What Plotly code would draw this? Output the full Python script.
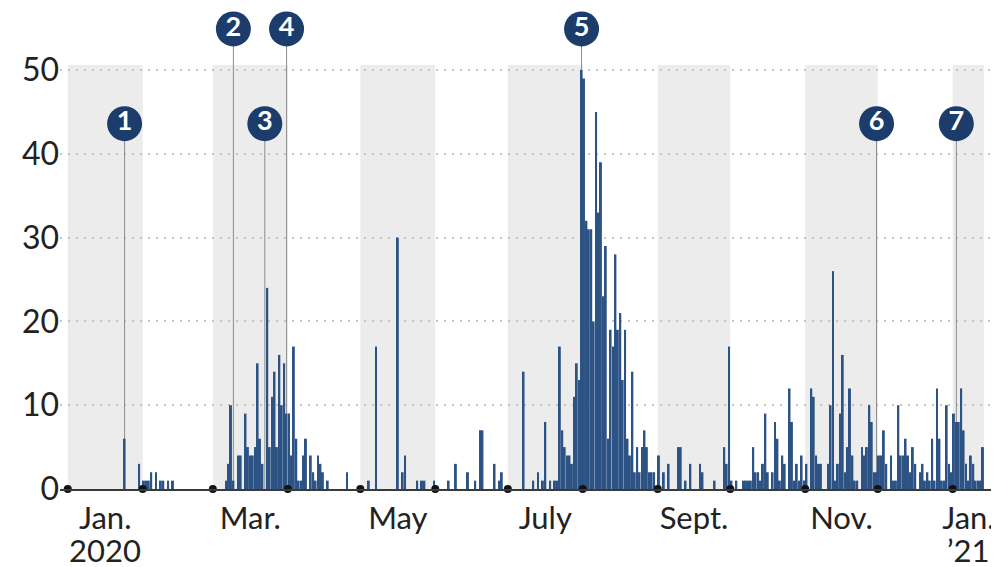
import plotly.graph_objects as go
import pandas as pd

# ---- data: daily counts (days not listed are zero) ----
dates = [
    "2020-01-24", "2020-01-30", "2020-02-01", "2020-02-02", "2020-02-03", "2020-02-04",
    "2020-02-06", "2020-02-08", "2020-02-09", "2020-02-11", "2020-02-13",
    "2020-03-06", "2020-03-07", "2020-03-08", "2020-03-09", "2020-03-11", "2020-03-12",
    "2020-03-14", "2020-03-15", "2020-03-16", "2020-03-17", "2020-03-18", "2020-03-19",
    "2020-03-20", "2020-03-21", "2020-03-23", "2020-03-24", "2020-03-25", "2020-03-26",
    "2020-03-27", "2020-03-28", "2020-03-29", "2020-03-30", "2020-03-31",
    "2020-04-01", "2020-04-02", "2020-04-03", "2020-04-04", "2020-04-05", "2020-04-06",
    "2020-04-07", "2020-04-08", "2020-04-10", "2020-04-11", "2020-04-12", "2020-04-13",
    "2020-04-14", "2020-04-15", "2020-04-17", "2020-04-25",
    "2020-05-04", "2020-05-07", "2020-05-16", "2020-05-18", "2020-05-19", "2020-05-24",
    "2020-05-26", "2020-05-27", "2020-05-31",
    "2020-06-06", "2020-06-09", "2020-06-14", "2020-06-17", "2020-06-19", "2020-06-20",
    "2020-06-25", "2020-06-27", "2020-06-28",
    "2020-07-07", "2020-07-11", "2020-07-13", "2020-07-15", "2020-07-16", "2020-07-18",
    "2020-07-20", "2020-07-21", "2020-07-22", "2020-07-23", "2020-07-24", "2020-07-25",
    "2020-07-26", "2020-07-27", "2020-07-28", "2020-07-29", "2020-07-30", "2020-07-31",
    "2020-08-01", "2020-08-02", "2020-08-03", "2020-08-04", "2020-08-05", "2020-08-06",
    "2020-08-07", "2020-08-08", "2020-08-09", "2020-08-10", "2020-08-11", "2020-08-12",
    "2020-08-13", "2020-08-14", "2020-08-15", "2020-08-16", "2020-08-17", "2020-08-18",
    "2020-08-19", "2020-08-20", "2020-08-21", "2020-08-22", "2020-08-23", "2020-08-24",
    "2020-08-25", "2020-08-26", "2020-08-27", "2020-08-28", "2020-08-29", "2020-08-30",
    "2020-09-01", "2020-09-03", "2020-09-05", "2020-09-09", "2020-09-10", "2020-09-12",
    "2020-09-14", "2020-09-18", "2020-09-19", "2020-09-24", "2020-09-28", "2020-09-29",
    "2020-09-30",
    "2020-10-01", "2020-10-03", "2020-10-06", "2020-10-07", "2020-10-08", "2020-10-09",
    "2020-10-10", "2020-10-11", "2020-10-12", "2020-10-13", "2020-10-14", "2020-10-15",
    "2020-10-16", "2020-10-18", "2020-10-19", "2020-10-20", "2020-10-21", "2020-10-22",
    "2020-10-23", "2020-10-25", "2020-10-26", "2020-10-27", "2020-10-28", "2020-10-29",
    "2020-10-30", "2020-10-31",
    "2020-11-01", "2020-11-03", "2020-11-04", "2020-11-05", "2020-11-06", "2020-11-07",
    "2020-11-10", "2020-11-11", "2020-11-12", "2020-11-13", "2020-11-14", "2020-11-15",
    "2020-11-16", "2020-11-17", "2020-11-18", "2020-11-19", "2020-11-20", "2020-11-21",
    "2020-11-22", "2020-11-24", "2020-11-25", "2020-11-26", "2020-11-27", "2020-11-28",
    "2020-11-29", "2020-11-30",
    "2020-12-01", "2020-12-02", "2020-12-03", "2020-12-04", "2020-12-06", "2020-12-07",
    "2020-12-08", "2020-12-09", "2020-12-10", "2020-12-11", "2020-12-12", "2020-12-13",
    "2020-12-14", "2020-12-15", "2020-12-16", "2020-12-18", "2020-12-19", "2020-12-20",
    "2020-12-21", "2020-12-22", "2020-12-23", "2020-12-24", "2020-12-25", "2020-12-26",
    "2020-12-27", "2020-12-28", "2020-12-29", "2020-12-30", "2020-12-31",
    "2021-01-01", "2021-01-02", "2021-01-03", "2021-01-04", "2021-01-05", "2021-01-06",
    "2021-01-07", "2021-01-08", "2021-01-09", "2021-01-10", "2021-01-11", "2021-01-12",
    "2021-01-13",
]
counts = [
    6, 3, 1, 1, 1, 2,
    2, 1, 1, 1, 1,
    1, 3, 10, 1, 4, 4,
    9, 5, 4, 4, 5, 15,
    6, 3, 24, 5, 11, 14,
    5, 16, 10, 15, 9,
    9, 4, 17, 6, 1, 1,
    4, 6, 4, 2, 1, 4,
    3, 2, 1, 2,
    1, 17, 30, 2, 4, 1,
    1, 1, 1,
    1, 3, 2, 1, 7, 7,
    3, 1, 2,
    14, 1, 2, 1, 8, 1,
    1, 1, 17, 7, 5, 4,
    4, 3, 11, 15, 13, 50,
    49, 32, 31, 31, 20, 45,
    33, 39, 23, 29, 6, 19,
    17, 28, 19, 21, 13, 19,
    6, 4, 14, 2, 5, 2,
    5, 7, 5, 2, 2, 2,
    4, 2, 3, 5, 5, 1,
    3, 3, 2, 1, 5, 3,
    17,
    1, 1, 1, 1, 1, 1,
    5, 2, 2, 1, 3, 9,
    2, 2, 8, 6, 1, 4,
    3, 12, 8, 1, 3, 1,
    4, 1,
    3, 12, 11, 4, 3, 3,
    3, 10, 26, 1, 3, 9,
    16, 2, 5, 12, 4, 1,
    1, 5, 4, 5, 10, 8,
    2, 2,
    4, 4, 7, 3, 4, 1,
    1, 10, 4, 4, 6, 4,
    2, 5, 3, 2, 3, 1,
    2, 1, 6, 1, 12, 6,
    1, 1, 10, 3, 2,
    9, 8, 8, 12, 7, 3,
    1, 4, 3, 1, 1, 1,
    5,
]

# numbered events
event_labels = ["1", "2", "3", "4", "5", "6", "7"]
event_dates = ["2020-01-24", "2020-03-09", "2020-03-22", "2020-03-31",
               "2020-07-31", "2020-11-30", "2021-01-02"]

# shaded months and their labels
band_starts = ["2020-01-01", "2020-03-01", "2020-05-01", "2020-07-01",
               "2020-09-01", "2020-11-01", "2021-01-01"]
band_ends = ["2020-02-01", "2020-04-01", "2020-06-01", "2020-08-01",
             "2020-10-01", "2020-12-01", "2021-01-14"]
month_labels = ["Jan.", "Mar.", "May", "July", "Sept.", "Nov.", "Jan."]
year_labels = ["2020", "", "", "", "", "", "\u201921"]

y_ticks = [0, 10, 20, 30, 40, 50]

# ---- styling ----
BAR = "#2d5385"
NAVY = "#1c3d6b"
FONT = "Lato"
TXT = "#222222"
FS = 31
event_levels = [43.6, 54.9, 43.6, 54.9, 54.9, 43.6, 43.6]

half_day = pd.Timedelta(hours=12)
ev_x = [pd.Timestamp(d) + half_day for d in event_dates]

fig = go.Figure()

# leader lines, drawn beneath the bars
for x, lv in zip(ev_x, event_levels):
    fig.add_shape(type="line", xref="x", yref="y", x0=x, x1=x, y0=0, y1=lv,
                  line=dict(color="#8c8c8c", width=1), layer="between")

# bars
fig.add_trace(go.Bar(
    x=dates, y=counts, marker_color=BAR, marker_line_width=0,
    xperiod=86400000, xperiodalignment="middle", hoverinfo="x+y",
))

# numbered circles
fig.add_trace(go.Scatter(
    x=ev_x, y=event_levels, mode="markers+text", text=event_labels,
    textposition="middle center",
    textfont=dict(family=FONT, size=27, color="white", weight="bold"),
    marker=dict(size=35, color=NAVY, line=dict(width=0)),
    cliponaxis=False, hoverinfo="skip",
))

# month-start dots on the baseline
month_starts = pd.date_range("2020-01-01", "2021-01-01", freq="MS")
fig.add_trace(go.Scatter(
    x=month_starts, y=[0] * len(month_starts), mode="markers",
    marker=dict(size=8, color="#111111"), cliponaxis=False, hoverinfo="skip",
))

# shaded bands
for s, e in zip(band_starts, band_ends):
    fig.add_shape(type="rect", xref="x", yref="y", x0=s, x1=e, y0=0, y1=50.6,
                  fillcolor="#ececec", line_width=0, layer="below")

tick_x = [pd.Timestamp(s) + (pd.Timestamp(e) - pd.Timestamp(s)) / 2
          for s, e in zip(band_starts, band_ends)]

# second line of the date labels (years)
for tx, yl in zip(tick_x, year_labels):
    if yl:
        fig.add_annotation(x=tx, y=-0.127, xref="x", yref="paper", text=yl,
                           showarrow=False, yanchor="middle", xanchor="center",
                           font=dict(family=FONT, size=FS, color=TXT))

# the page body has an 8px offset, so margins are set to place the plot area
# at the same screen position as the reference
fig.update_layout(
    width=999, height=567,
    margin=dict(l=52, r=8, t=2, b=86),
    plot_bgcolor="white", paper_bgcolor="white",
    showlegend=False, bargap=0.18,
    font=dict(family=FONT, color=TXT),
    xaxis=dict(
        type="date", automargin=False,
        range=["2019-12-28 19:00", "2021-01-20 03:30"],
        showgrid=False, zeroline=False,
        showline=True, linecolor="#3a3a3a", linewidth=2,
        tickvals=tick_x, ticktext=month_labels, ticks="",
        tickfont=dict(family=FONT, size=FS, color=TXT),
        ticklabelstandoff=1,
    ),
    yaxis=dict(
        range=[0, 57.16], tickvals=y_ticks, ticks="", automargin=False,
        showgrid=True, gridcolor="#c4c4c4", gridwidth=2, griddash="2px,6px",
        zeroline=False, showline=False,
        tickfont=dict(family=FONT, size=32, color=TXT),
    ),
)

fig.write_html("out.html")
